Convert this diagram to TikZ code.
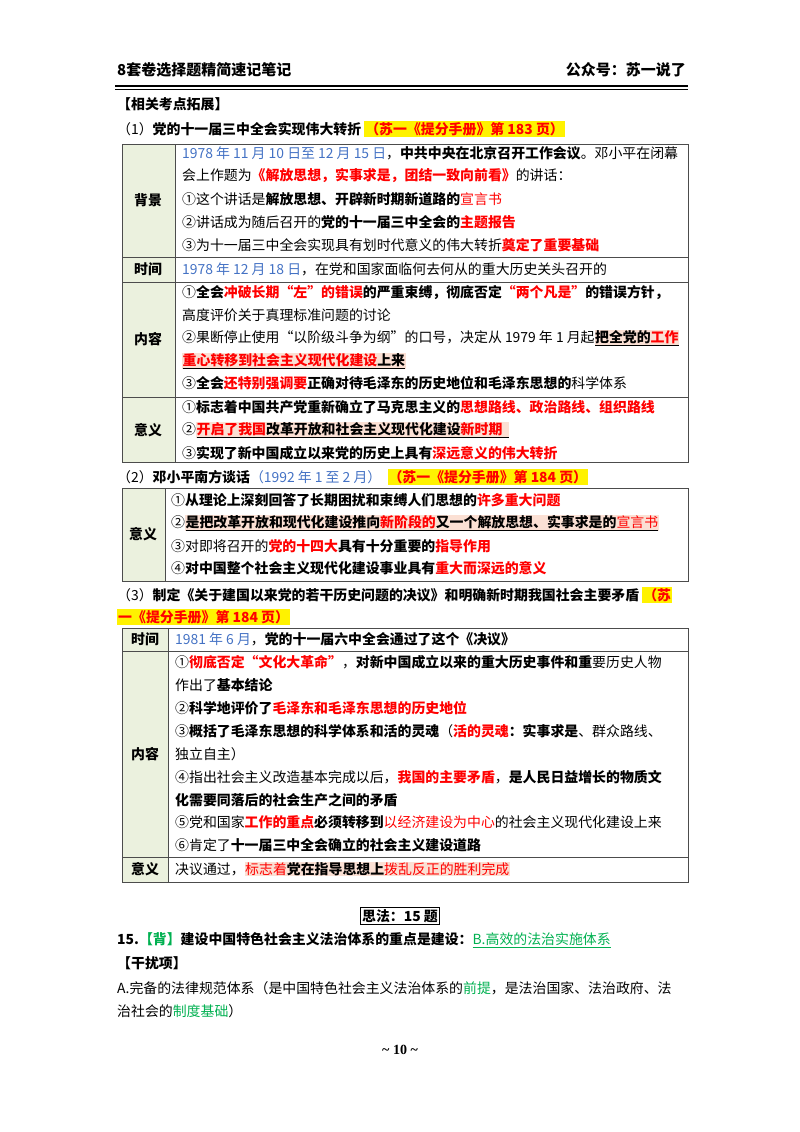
\documentclass[tikz,border=0pt]{standalone}
\usepackage{fontspec}
\setmainfont{Noto Sans CJK SC}
\newfontfamily\serifen{Liberation Serif}
\definecolor{dblue}{HTML}{4472C4}
\definecolor{dred}{HTML}{FF0000}
\definecolor{cellg}{HTML}{EBF1DE}
\definecolor{hlor}{HTML}{FBE0D4}
\definecolor{dgreen}{HTML}{00B050}
\newcommand\R[1]{\textcolor{dred}{\textbf{#1}}}
\newcommand\Rn[1]{\textcolor{dred}{#1}}
\newcommand\Bd[1]{\textbf{#1}}
\newcommand\Bl[1]{\textcolor{dblue}{#1}}
\newcommand\Gr[1]{\textcolor{dgreen}{#1}}
\newcommand\HO[1]{{\setlength\fboxsep{0.5pt}\colorbox{hlor}{#1}}}
\newcommand\HY[1]{{\setlength\fboxsep{1pt}\colorbox{yellow}{#1}}}
\begin{document}
\begin{tikzpicture}[x=1pt,y=-1pt,
  txt/.style={anchor=west,inner sep=0pt,font=\fontsize{13.9}{16}\selectfont},
  hd/.style={inner sep=0pt,font=\fontsize{13.9}{16}\selectfont\bfseries},
  cell/.style={draw=black!70,line width=0.8pt}]
\useasboundingbox (0,0) rectangle (800,1132);
% header
\node[txt,font=\fontsize{15}{17}\selectfont\bfseries] (h1) at (117,70) {8套卷选择题精简速记笔记};
\node[inner sep=0pt,anchor=east,font=\fontsize{15}{17}\selectfont\bfseries] (h2) at (686,70) {公众号：苏一说了};
\draw[line width=1.2pt] (115,86) -- (688,86);
\draw[line width=0.5pt] (115,89) -- (688,89);
\node[txt,font=\fontsize{13.9}{16}\selectfont\bfseries] (t0) at (117,104) {【相关考点拓展】};
\node[txt] (s1) at (117,129) {（1）\Bd{党的十一届三中全会实现伟大转折}\ \HY{\R{（苏一《提分手册》第 183 页）}}};
% table 1
\fill[cellg] (122,144) rectangle (175,462);
\draw[cell] (122,144) rectangle (688,462);
\draw[cell] (175,144) -- (175,462);
\foreach \yy in {257,282,397} \draw[cell] (122,\yy) -- (688,\yy);
\node[hd] (c1) at (148,200) {背景};
\node[hd] (c2) at (148,269) {时间};
\node[hd] (c3) at (148,339) {内容};
\node[hd] (c4) at (148,430) {意义};
\node[txt] at (182,153) {\Bl{1978 年 11 月 10 日至 12 月 15 日}，\Bd{中共中央在北京召开工作会议}。邓小平在闭幕};
\node[txt] at (182,176) {会上作题为\R{《解放思想，实事求是，团结一致向前看》}的讲话：};
\node[txt] at (182,199) {①这个讲话是\Bd{解放思想、开辟新时期新道路的}\Rn{宣言书}};
\node[txt] at (182,222) {②讲话成为随后召开的\Bd{党的十一届三中全会的}\R{主题报告}};
\node[txt] at (182,245) {③为十一届三中全会实现具有划时代意义的伟大转折\R{奠定了重要基础}};
\node[txt] at (182,269) {\Bl{1978 年 12 月 18 日}，在党和国家面临何去何从的重大历史关头召开的};
\node[txt] at (182,293) {①\Bd{全会}\R{冲破长期“左”的错误}\Bd{的严重束缚，彻底否定}\R{“两个凡是”}\Bd{的错误方针，}};
\node[txt] at (182,315) {高度评价关于真理标准问题的讨论};
\node[txt] at (182,338) {②果断停止使用“以阶级斗争为纲”的口号，决定从 1979 年 1 月起\HO{\underline{\Bd{把全党的}\R{工作}}}};
\node[txt] at (182,361) {\HO{\underline{\R{重心转移到社会主义现代化建设}\Bd{上来}}}};
\node[txt] at (182,383) {③\Bd{全会}\R{还特别强调要}\Bd{正确对待毛泽东的历史地位和毛泽东思想的}科学体系};
\node[txt] at (182,407) {①\Bd{标志着中国共产党重新确立了马克思主义的}\R{思想路线、政治路线、组织路线}};
\node[txt] at (182,430) {②\HO{\underline{\R{开启了我国}\Bd{改革开放和社会主义现代化建设}\R{新时期}\ \ }}};
\node[txt] at (182,453) {③\Bd{实现了新中国成立以来党的历史上具有}\R{深远意义的伟大转折}};
% (2)
\node[txt] (s2) at (117,477) {（2）\Bd{邓小平南方谈话}\Bl{（1992 年 1 至 2 月）}\ \ \HY{\R{（苏一《提分手册》第 184 页）}}};
\fill[cellg] (122,488) rectangle (165,581);
\draw[cell] (122,488) rectangle (688,581);
\draw[cell] (165,488) -- (165,581);
\node[hd] (c5) at (143,534) {意义};
\node[txt] at (171,500) {①\Bd{从理论上深刻回答了长期困扰和束缚人们思想的}\R{许多重大问题}};
\node[txt] at (171,523) {②\HO{\underline{\Bd{是把改革开放和现代化建设推向}\R{新阶段的}\Bd{又一个解放思想、实事求是的}\Rn{宣言书}}}};
\node[txt] at (171,546) {③对即将召开的\R{党的十四大}\Bd{具有十分重要的}\R{指导作用}};
\node[txt] at (171,568) {④\Bd{对中国整个社会主义现代化建设事业具有}\R{重大而深远的意义}};
% (3)
\node[txt] (s3) at (117,595) {（3）\Bd{制定《关于建国以来党的若干历史问题的决议》和明确新时期我国社会主要矛盾}\ \HY{\R{（苏}}};
\node[txt] (s3b) at (117,617) {\HY{\R{一《提分手册》第 184 页）}}};
\fill[cellg] (122,628) rectangle (168,882);
\draw[cell] (122,628) rectangle (688,882);
\draw[cell] (168,628) -- (168,882);
\foreach \yy in {651,857} \draw[cell] (122,\yy) -- (688,\yy);
\node[hd] (c6) at (145,639) {时间};
\node[hd] (c7) at (145,754) {内容};
\node[hd] (c8) at (145,869) {意义};
\node[txt] at (175,639) {\Bl{1981 年 6 月}，\Bd{党的十一届六中全会通过了这个《决议》}};
\node[txt] at (175,662) {①\R{彻底否定“文化大革命”}，\Bd{对新中国成立以来的重大历史事件和重}要历史人物};
\node[txt] at (175,685) {作出了\Bd{基本结论}};
\node[txt] at (175,708) {②\Bd{科学地评价了}\R{毛泽东和毛泽东思想的历史地位}};
\node[txt] at (175,731) {③\Bd{概括了毛泽东思想的科学体系和活的灵魂}（\R{活的灵魂}\Bd{：实事求是}、群众路线、};
\node[txt] at (175,754) {独立自主）};
\node[txt] at (175,777) {④指出社会主义改造基本完成以后，\R{我国的主要矛盾}，\Bd{是人民日益增长的物质文}};
\node[txt] at (175,800) {\Bd{化需要同落后的社会生产之间的矛盾}};
\node[txt] at (175,822) {⑤党和国家\R{工作的重点}\Bd{必须转移到}\Rn{以经济建设为中心}的社会主义现代化建设上来};
\node[txt] at (175,845) {⑥肯定了\Bd{十一届三中全会确立的社会主义建设道路}};
\node[txt] at (175,869) {决议通过，\HO{\Rn{标志着}\Bd{党在指导思想上}\Rn{拨乱反正的胜利完成}}};
% bottom
\node[draw,line width=0.8pt,inner sep=2pt,font=\fontsize{13.9}{16}\selectfont\bfseries] (sf) at (400,916) {思法：15 题};
\node[txt] (q15) at (117,940) {\Bd{15.}\Gr{\Bd{【背】}}\Bd{建设中国特色社会主义法治体系的重点是建设：}\Gr{\underline{B.高效的法治实施体系}}};
\node[txt,font=\fontsize{13.9}{16}\selectfont\bfseries] (gr) at (117,963) {【干扰项】};
\node[txt] (qa) at (117,988) {A.完备的法律规范体系（是中国特色社会主义法治体系的\Gr{前提}，是法治国家、法治政府、法};
\node[txt] (qb) at (117,1011) {治社会的\Gr{制度基础}）};
\node[inner sep=0pt,font=\serifen\fontsize{14}{16}\selectfont\bfseries] (pg) at (400,1050) {\textasciitilde{} 10 \textasciitilde};
\end{tikzpicture}
\end{document}
